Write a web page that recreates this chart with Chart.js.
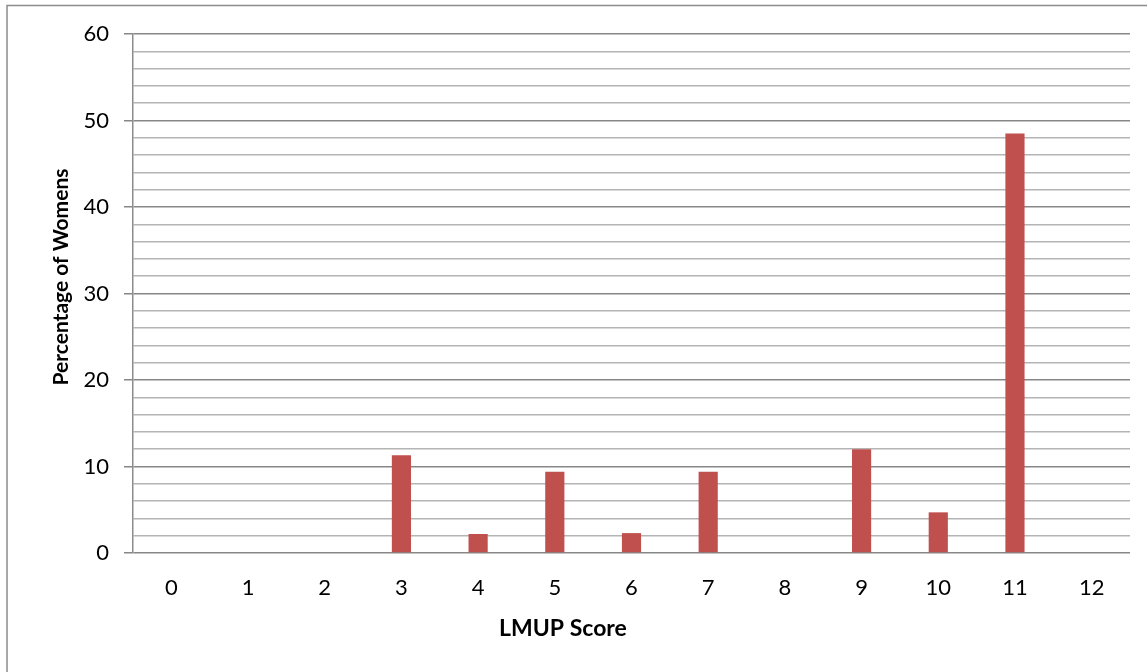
<!DOCTYPE html>
<html>
<head>
<meta charset="utf-8">
<script src="https://cdn.jsdelivr.net/npm/chart.js@4.4.1/dist/chart.umd.min.js"></script>
<style>
  html, body { margin: 0; padding: 0; background: #ffffff; }
  #wrap { position: relative; width: 1147px; height: 672px; }
</style>
</head>
<body>
<div id="wrap"><canvas id="c" width="1147" height="672"></canvas></div>
<script>
const categories = ["0","1","2","3","4","5","6","7","8","9","10","11","12"];
const percentages = [0, 0, 0, 11.3, 2.2, 9.4, 2.3, 9.4, 0, 12.0, 4.7, 48.5, 0];
const yTickLabels = [0, 10, 20, 30, 40, 50, 60];
const xTitle = "LMUP Score";
const yTitle = "Percentage of Womens";

const FONT = "Lato, 'Open Sans', sans-serif";

const framePlugin = {
  id: 'frame',
  beforeDraw(chart) {
    const ctx = chart.ctx;
    ctx.save();
    ctx.fillStyle = '#ffffff';
    ctx.fillRect(0, 0, chart.width, chart.height);
    ctx.strokeStyle = '#8c8c8c';
    ctx.lineWidth = 1.5;
    ctx.beginPath();
    ctx.moveTo(7, 672);
    ctx.lineTo(7, 5.5);
    ctx.lineTo(1147, 5.5);
    ctx.stroke();
    ctx.restore();
  },
  afterDraw(chart) {
    const ctx = chart.ctx;
    const a = chart.chartArea;
    ctx.save();
    ctx.fillStyle = '#000000';
    ctx.textAlign = 'center';
    ctx.textBaseline = 'middle';
    ctx.font = "bold 23px " + FONT;
    ctx.fillText(xTitle, 563, 629);
    ctx.font = "bold 21px " + FONT;
    ctx.translate(61, 277);
    ctx.rotate(-Math.PI / 2);
    ctx.fillText(yTitle, 0, 0);
    ctx.restore();
  }
};

new Chart(document.getElementById('c'), {
  type: 'bar',
  data: {
    labels: categories,
    datasets: [{
      data: percentages,
      backgroundColor: '#C0504D',
      borderWidth: 0,
      barPercentage: 0.25,
      categoryPercentage: 1.0
    }]
  },
  options: {
    responsive: false,
    animation: false,
    devicePixelRatio: 1,
    layout: { padding: { left: 0, top: 34, right: 17, bottom: 0 } },
    plugins: {
      legend: { display: false },
      tooltip: { enabled: false },
      title: { display: false }
    },
    scales: {
      x: {
        afterFit(scale) { scale.height = 119; },
        grid: { display: false },
        border: { display: false },
        ticks: {
          color: '#000000',
          font: { family: FONT, size: 22 },
          padding: 14,
          maxRotation: 0
        }
      },
      y: {
        min: 0,
        max: 60,
        afterFit(scale) { scale.width = 133; },
        afterBuildTicks(scale) {
          const t = [];
          for (let v = 0; v <= 60; v += 2) t.push({ value: v });
          scale.ticks = t;
        },
        border: { display: true, color: '#8c8c8c', width: 1.5 },
        grid: {
          color: (c) => (c.tick && c.tick.value % 10 === 0) ? '#878787' : '#b4b4b4',
          lineWidth: 1.5,
          tickLength: 9,
          tickColor: (c) => (c.tick && c.tick.value % 10 === 0) ? '#878787' : 'rgba(0,0,0,0)'
        },
        ticks: {
          color: '#000000',
          font: { family: FONT, size: 22 },
          padding: 15,
          autoSkip: false,
          callback: (v) => yTickLabels.includes(v) ? String(v) : ''
        }
      }
    }
  },
  plugins: [framePlugin]
});
</script>
</body>
</html>
